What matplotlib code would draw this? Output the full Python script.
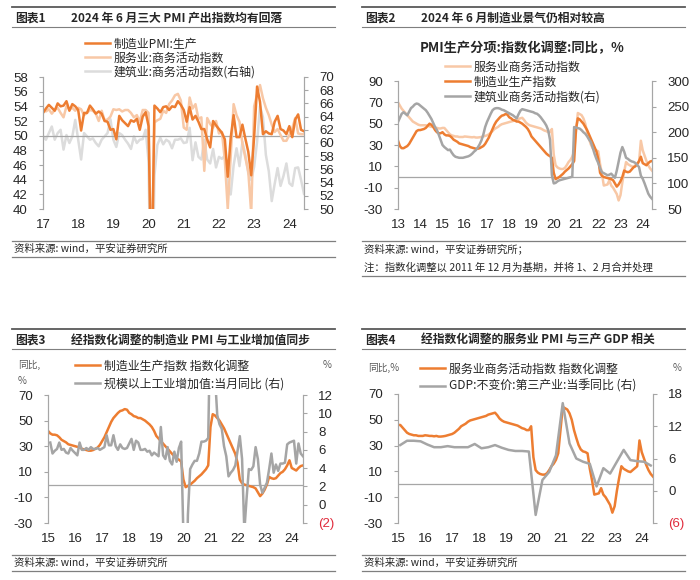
import numpy as np
import matplotlib
matplotlib.use('Agg')
import matplotlib.pyplot as plt
from matplotlib.lines import Line2D

plt.rcParams['font.family'] = ['Noto Sans CJK SC', 'DejaVu Sans']

# ---------------- data ----------------
# 图表1: 三大 PMI 产出指数, 2017-01 .. 2024-06
pmi_mfg_prod = [53.1, 53.7, 54.2, 53.8, 53.4, 54.4, 54.0, 54.1, 54.7, 53.4, 54.3, 54.0,
                53.5, 50.7, 53.1, 53.1, 54.1, 53.6, 53.0, 53.3, 53.0, 52.0, 51.9, 50.8,
                50.9, 49.5, 52.7, 52.1, 51.7, 51.3, 52.1, 51.9, 52.3, 50.8, 52.6, 53.2,
                51.3, 27.8, 54.1, 53.7, 53.2, 53.9, 54.0, 53.5, 54.0, 53.9, 54.7, 54.2,
                53.5, 51.9, 53.9, 52.2, 52.7, 51.9, 50.9, 50.9, 49.5, 48.4, 52.0, 51.4,
                50.9, 50.4, 49.5, 44.4, 49.7, 52.8, 49.8, 49.8, 51.5, 49.6, 47.8, 44.6,
                49.8, 56.7, 54.6, 50.2, 50.6, 50.3, 50.2, 51.9, 52.7, 50.9, 50.7, 50.2,
                51.3, 49.8, 52.2, 52.9, 50.8, 50.6]
pmi_services = [53.5, 53.3, 53.6, 53.0, 53.5, 53.8, 53.1, 52.5, 54.0, 53.6, 53.8, 53.4,
                53.8, 53.6, 52.8, 53.1, 53.5, 53.4, 53.0, 52.0, 53.4, 52.1, 52.2, 52.6,
                53.6, 53.5, 53.6, 53.3, 53.5, 53.5, 53.1, 52.5, 52.8, 51.9, 53.5, 53.5,
                53.1, 30.1, 51.8, 52.1, 52.3, 53.4, 53.1, 54.3, 54.8, 55.5, 55.7, 54.8,
                51.1, 50.8, 55.2, 53.7, 54.3, 52.3, 52.5, 45.2, 52.4, 51.6, 51.1, 52.0,
                50.3, 50.5, 46.7, 40.0, 47.1, 54.3, 52.8, 51.9, 48.9, 47.0, 45.1, 39.4,
                54.0, 55.6, 56.9, 55.1, 53.8, 52.8, 51.5, 50.5, 50.9, 50.1, 49.3, 49.3,
                50.1, 51.0, 52.4, 50.3, 50.2, 50.2]
pmi_construction = [61.0, 60.5, 61.5, 62.5, 60.5, 61.5, 62.0, 59.0, 61.2, 60.0, 61.0, 63.5,
                    60.5, 57.5, 61.5, 61.0, 60.5, 60.7, 60.0, 59.5, 60.5, 61.0, 61.5, 63.6,
                    60.5, 59.4, 61.5, 61.2, 60.5, 59.9, 59.1, 61.0, 60.0, 60.5, 60.6, 62.0,
                    57.2, 26.6, 55.1, 59.7, 60.8, 59.8, 60.5, 60.2, 59.2, 60.5, 60.5, 60.7,
                    60.0, 60.1, 62.3, 57.4, 60.1, 57.9, 57.5, 60.5, 57.5, 56.9, 59.1, 56.3,
                    57.9, 57.6, 58.1, 52.7, 52.2, 56.6, 59.2, 56.5, 60.2, 58.2, 55.4, 54.4,
                    56.4, 60.2, 65.6, 63.9, 58.2, 55.7, 51.2, 53.8, 56.2, 53.5, 55.0, 56.9,
                    53.9, 53.5, 56.2, 56.3, 54.4, 52.3]

# 指数化调整后同比 (%), 2013-01 .. 2024-06
mfg_yoy = [34, 29, 27, 27, 28, 29, 31, 34, 37, 40, 43, 44,
           44, 44.5, 45, 46, 48, 50, 49, 47, 44, 42, 41, 41,
           42, 40, 39, 39, 38.5, 37, 35, 34, 33, 31.5, 31, 30.5,
           30, 29.5, 29, 28, 27.5, 27, 26.5, 26.5, 27, 28, 29, 31,
           34, 37, 41, 45, 49, 52, 54, 56, 57.5, 58, 59, 58.5,
           56, 55, 53.5, 53, 52, 52, 51, 50, 48.5, 47, 45, 42,
           38, 36, 34, 32, 30, 28, 26, 24, 22, 20.5, 19.5, 18,
           4, -2, -1, 0, 1.5, 3, 5, 6.5, 8, 10, 12, 15,
           45, 55, 54, 52, 50, 47, 44, 40, 36, 32, 28, 24,
           17, 4, 1, 0, -0.5, -1, -1.5, -2, -3, -6, -9, -7,
           -4, 0, 6, 5, 4.5, 5, 7, 9, 10, 12, 15, 19,
           13, 12, 11, 13, 14.5, 15]
svc_yoy = [70, 67, 64, 62, 60, 58, 56, 54, 52, 51, 50, 49,
           48.5, 48.5, 48.5, 48.5, 48, 47.5, 47, 47, 46.5, 46, 45.5, 45.5,
           46, 46, 44, 42, 40, 39, 38.5, 38, 38, 37.5, 37.5, 37.5,
           38, 37.8, 37.5, 37.5, 37.2, 37.5, 37, 37, 37.2, 37.5, 38, 38.5,
           39, 40, 41.5, 43, 45, 46, 47, 48.5, 49.5, 50, 50.5, 51,
           51.5, 52, 52.5, 53, 54, 54.5, 55, 55.5, 53.5, 51, 49.5, 48.5,
           48, 47.5, 47, 46.5, 46, 45.5, 44.5, 43.5, 43, 42, 42, 45,
           21, 11, 9, 8, 7.5, 7.5, 8.5, 11, 14, 16, 19, 24,
           42, 60, 59, 58, 55, 50, 42, 36, 30.5, 27, 25.5, 25,
           24, 12, 3, -8, -7.5, -7, -3, -8, -10, -13, -16, -22,
           -17, -5, 5, 14, 12, 11, 10, 9.5, 11, 12.5, 14, 34,
           25, 20, 15, 11, 8, 6]
con_yoy = [220, 228, 236, 239, 236, 233, 240, 247, 250, 254, 256, 255,
           252, 249, 246, 243, 238, 232, 226, 218, 210, 204, 195, 185,
           175, 171, 168, 165, 166, 160, 155, 152, 151, 150, 150, 150,
           151, 152, 153, 155, 158, 162, 165, 170, 176, 184, 195, 210,
           220, 228, 236, 243, 246, 247, 247, 246, 244, 243, 241, 239,
           237, 235, 233, 230, 227, 235, 242, 245, 244, 243, 242, 241,
           240, 239, 237, 236, 233, 229, 224, 219, 213, 204, 185, 116,
           100, 101, 104, 106, 107, 108, 109, 110, 111, 112, 113, 210,
           209, 208, 207, 204, 200, 197, 192, 186, 181, 170, 158, 148,
           140, 130, 122, 120, 118, 116, 117, 119, 115, 111, 125, 142,
           160, 171, 162, 150, 148, 145, 143, 142, 140, 136, 132, 115,
           109, 100, 90, 80, 74, 70]

# 规模以上工业增加值:当月同比, 2015-01 .. 2024-06 (1 月无单月值)
ind_va = [None, 6.8, 5.6, 5.9, 6.1, 6.8, 6.0, 6.1, 5.7, 5.6, 6.2, 5.9,
          None, 5.4, 6.8, 6.0, 6.0, 6.2, 6.0, 6.3, 6.1, 6.1, 6.2, 6.0,
          None, 6.3, 7.6, 6.5, 6.5, 7.6, 6.4, 6.0, 6.6, 6.2, 6.1, 6.2,
          None, 7.2, 6.0, 7.0, 6.8, 6.0, 6.0, 6.1, 5.8, 5.9, 5.4, 5.7,
          None, 5.3, 8.5, 5.4, 5.0, 6.3, 4.8, 4.4, 5.8, 4.7, 6.2, 6.9,
          None, -13.5, -1.1, 3.9, 4.4, 4.8, 4.8, 5.6, 6.9, 6.9, 7.0, 7.3,
          None, 35.1, 14.1, 9.8, 8.8, 8.3, 6.4, 5.3, 3.1, 3.5, 3.8, 4.3,
          None, 7.5, 5.0, -2.9, 0.7, 3.9, 3.8, 4.2, 6.3, 5.0, 2.2, 1.3,
          None, 2.4, 3.9, 5.6, 3.5, 4.4, 3.7, 4.5, 4.5, 4.6, 6.6, 6.8,
          None, 7.0, 4.5, 6.7, 5.6, 5.3]

# GDP:不变价:第三产业:当季同比, 2015Q1 .. 2024Q2
gdp_tertiary = [8.5, 9.3, 9.3, 9.2,
                8.6, 8.1, 8.1, 8.3,
                8.1, 8.1, 8.1, 8.7,
                7.9, 8.1, 8.5, 8.0,
                7.6, 7.4, 7.4, 7.3,
                -4.5, 2.0, 3.5, 6.6,
                16.3, 8.8, 6.0, 5.4,
                5.0, 0.8, 4.2, 3.2,
                5.4, 7.6, 5.7, 5.5,
                5.4, 4.7]

# ---------------- style ----------------
ORANGE = '#ED7D31'
LIGHT = '#F8C8A6'
GRAY = '#A5A5A5'
PALE = '#DCDCDC'
TXT = '#262626'
AXC = '#A6A6A6'
RED = '#E02B3C'
NUM = ['Liberation Sans', 'DejaVu Sans']

fig = plt.figure(figsize=(7, 5.8), dpi=100)


def fx(px):
    return px / 700


def fy(py):
    return 1 - py / 580


def months(start_year, n):
    return start_year + np.arange(n) / 12


def header(x0, x1, y0, num, title):
    fig.add_artist(Line2D([fx(x0), fx(x1)], [fy(y0)] * 2, color='#595959', lw=1.3))
    fig.text(fx(x0 + 3), fy(y0 + 11), num, fontsize=8.5, fontweight='bold', va='center', color=TXT)
    fig.text(fx(x0 + 59), fy(y0 + 11), title, fontsize=8.5, fontweight='bold', va='center', color=TXT)
    fig.add_artist(Line2D([fx(x0), fx(x1)], [fy(y0 + 20)] * 2, color='#7F7F7F', lw=0.8))


def footer(x0, x1, y0, text, note=None):
    fig.add_artist(Line2D([fx(x0), fx(x1)], [fy(y0)] * 2, color='#7F7F7F', lw=0.9))
    fig.text(fx(x0 + 2), fy(y0 + 8), text, fontsize=7.5, style='italic', va='center', color=TXT)
    if note:
        fig.text(fx(x0 + 2), fy(y0 + 26), note, fontsize=7.5, style='italic', va='center', color=TXT)
        fig.add_artist(Line2D([fx(x0), fx(x1)], [fy(y0 + 35)] * 2, color='#7F7F7F', lw=0.9))
    else:
        fig.add_artist(Line2D([fx(x0), fx(x1)], [fy(y0 + 16)] * 2, color='#7F7F7F', lw=0.9))


def make_axes(left, top, right, bottom):
    ax = fig.add_axes([fx(left), fy(bottom), (right - left) / 700, (bottom - top) / 580])
    ax2 = ax.twinx()
    for a in (ax, ax2):
        a.spines['top'].set_visible(False)
        a.spines['bottom'].set_visible(False)
        a.spines['left'].set_color(AXC)
        a.spines['right'].set_color(AXC)
        a.tick_params(axis='x', length=0, pad=7)
        a.tick_params(axis='y', direction='out', length=3, width=0.8, color=AXC, pad=8)
    return ax, ax2


def set_ticks(ax, axis, ticks, labels, colors=None):
    if axis == 'x':
        ax.set_xticks(ticks, labels, fontsize=9.5, fontfamily=NUM, color=TXT)
    else:
        ax.set_yticks(ticks, labels, fontsize=9.5, fontfamily=NUM, color=TXT)
        if colors:
            for lbl, c in zip(ax.get_yticklabels(), colors):
                lbl.set_color(c)


def legend(ax, handles, labels, x, y, spacing):
    ax.legend(handles, labels, loc='upper left', bbox_to_anchor=(fx(x), fy(y)),
              bbox_transform=fig.transFigure, frameon=False, fontsize=8.6,
              handlelength=2.1, handletextpad=0.3, labelspacing=spacing,
              borderpad=0, borderaxespad=0, labelcolor=TXT)


# ---------------- 图表1 ----------------
header(12, 335, 7, '图表1', '2024 年 6 月三大 PMI 产出指数均有回落')
x1 = months(2017, len(pmi_mfg_prod))
ax, ax2 = make_axes(43, 77, 304, 209)
ax.set_zorder(ax2.get_zorder() + 1)
ax.patch.set_visible(False)
l3, = ax2.plot(x1, pmi_construction, color=PALE, lw=1.8)
l2, = ax.plot(x1, pmi_services, color=LIGHT, lw=1.8)
l1, = ax.plot(x1, pmi_mfg_prod, color=ORANGE, lw=1.8)
ax.axhline(50, color=AXC, lw=0.9, zorder=0)
ax.set_ylim(40, 58)
ax2.set_ylim(50, 70)
ax.set_xlim(2017, x1[-1])
set_ticks(ax, 'y', np.arange(40, 59, 2), [str(v) for v in range(40, 59, 2)])
set_ticks(ax2, 'y', np.arange(50, 71, 2), [str(v) for v in range(50, 71, 2)])
set_ticks(ax, 'x', np.arange(2017, 2025), [str(y)[2:] for y in range(2017, 2025)])
legend(ax, [l1, l2, l3], ['制造业PMI:生产', '服务业:商务活动指数', '建筑业:商务活动指数(右轴)'], 85, 37.5, 0.09)
footer(12, 335, 241, '资料来源: wind，平安证券研究所')

# ---------------- 图表2 ----------------
header(362, 685, 7, '图表2', '2024 年 6 月制造业景气仍相对较高')
fig.text(fx(522), fy(48), 'PMI生产分项:指数化调整:同比，%', fontsize=9.5, fontweight='bold',
         ha='center', va='center', color=TXT)
x2 = months(2013, len(mfg_yoy))
ax, ax2 = make_axes(398, 81, 652, 209)
s2, = ax.plot(x2, svc_yoy, color=LIGHT, lw=1.8)
m2, = ax.plot(x2, mfg_yoy, color=ORANGE, lw=1.8)
c2, = ax2.plot(x2, con_yoy, color=GRAY, lw=1.8)
ax.axhline(0, color=AXC, lw=0.9, zorder=0)
ax.set_ylim(-30, 90)
ax2.set_ylim(50, 300)
ax.set_xlim(2013, x2[-1])
set_ticks(ax, 'y', np.arange(-30, 91, 20), [str(v) for v in range(-30, 91, 20)])
set_ticks(ax2, 'y', np.arange(50, 301, 50), [str(v) for v in range(50, 301, 50)])
set_ticks(ax, 'x', np.arange(2013, 2025), [str(y)[2:] for y in range(2013, 2025)])
legend(ax2, [s2, m2, c2], ['服务业商务活动指数', '制造业生产指数', '建筑业商务活动指数(右)'], 445, 60.5, 0.17)
footer(362, 685, 241, '资料来源: wind，平安证券研究所；',
       note='注：指数化调整以 2011 年 12 月为基期，并将 1、2 月合并处理')

# ---------------- 图表3 ----------------
header(12, 335, 329, '图表3', '经指数化调整的制造业 PMI 与工业增加值同步')
x3 = months(2015, len(ind_va))
va = np.array([np.nan if v is None else v for v in ind_va])
ok = ~np.isnan(va)
ax, ax2 = make_axes(48, 395, 303, 523)
m3, = ax.plot(x3, mfg_yoy[24:], color=ORANGE, lw=1.8)
g3, = ax2.plot(x3[ok], va[ok], color=GRAY, lw=1.8)
ax.axhline(0, color=AXC, lw=0.9, zorder=0)
ax.set_ylim(-30, 70)
ax2.set_ylim(-2, 12)
ax.set_xlim(2015, x3[-1])
set_ticks(ax, 'y', np.arange(-30, 71, 20), [str(v) for v in range(-30, 71, 20)])
set_ticks(ax2, 'y', np.arange(-2, 13, 2), ['(2)'] + [str(v) for v in range(0, 13, 2)],
          colors=[RED] + [TXT] * 7)
set_ticks(ax, 'x', np.arange(2015, 2025), [str(y)[2:] for y in range(2015, 2025)])
legend(ax2, [m3, g3], ['制造业生产指数 指数化调整', '规模以上工业增加值:当月同比 (右)'], 75, 359.5, 0.42)
fig.text(fx(18), fy(365), '同比,', fontsize=7, color='#595959', va='center')
fig.text(fx(18), fy(381), '%', fontsize=7, color='#595959', va='center')
fig.text(fx(323), fy(365), '%', fontsize=7, color='#595959', va='center')
footer(12, 335, 555, '资料来源: wind，平安证券研究所')

# ---------------- 图表4 ----------------
header(362, 685, 329, '图表4', '经指数化调整的服务业 PMI 与三产 GDP 相关')
x4 = months(2015, len(svc_yoy[24:]))
xq = 2015 + (np.arange(len(gdp_tertiary)) * 3 + 1) / 12
ax, ax2 = make_axes(398, 394, 653, 523)
s4, = ax.plot(x4, svc_yoy[24:], color=ORANGE, lw=1.8)
g4, = ax2.plot(xq, gdp_tertiary, color=GRAY, lw=1.8)
ax.axhline(0, color=AXC, lw=0.9, zorder=0)
ax.set_ylim(-30, 70)
ax2.set_ylim(-6, 18)
ax.set_xlim(2015, x4[-1])
set_ticks(ax, 'y', np.arange(-30, 71, 20), [str(v) for v in range(-30, 71, 20)])
set_ticks(ax2, 'y', np.arange(-6, 19, 6), ['(6)', '0', '6', '12', '18'],
          colors=[RED] + [TXT] * 4)
set_ticks(ax, 'x', np.arange(2015, 2025), [str(y)[2:] for y in range(2015, 2025)])
legend(ax2, [s4, g4], ['服务业商务活动指数 指数化调整', 'GDP:不变价:第三产业:当季同比 (右)'], 420, 362.5, 0.34)
fig.text(fx(368), fy(368), '同比,%', fontsize=7, color='#595959', va='center')
fig.text(fx(673), fy(368), '%', fontsize=7, color='#595959', va='center')
footer(362, 685, 555, '资料来源: wind，平安证券研究所')

fig.savefig('out.png', dpi=100)
